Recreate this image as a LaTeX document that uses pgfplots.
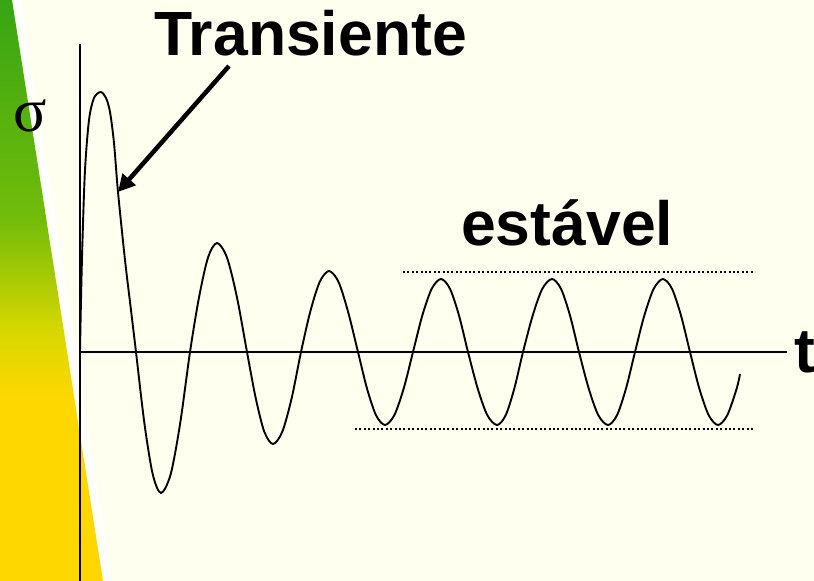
\documentclass[border=0pt]{standalone}
\usepackage{pgfplots}
\pgfplotsset{compat=1.18}
\usepackage{fontspec}
\setmainfont{Liberation Sans}
\newfontfamily\seriffont{Liberation Serif}
\usetikzlibrary{arrows.meta}
\definecolor{bgc}{RGB}{255,255,240}
\definecolor{g1}{RGB}{55,165,20}
\definecolor{g2}{RGB}{115,188,10}
\definecolor{g3}{RGB}{215,215,0}
\definecolor{g4}{RGB}{255,215,0}
\begin{document}
\begin{tikzpicture}
\begin{axis}[
  name=ax,
  width=814pt, height=581pt, scale only axis,
  xmin=0, xmax=814, ymin=0, ymax=581, y dir=reverse,
  hide axis, clip=false,
  axis background/.style={fill=bgc},
]
% left gradient band
\shade[top color=g1, bottom color=g2] (axis cs:0,0) -- (axis cs:12,0) -- (axis cs:46.5,220) -- (axis cs:0,220) -- cycle;
\shade[top color=g2, bottom color=g3] (axis cs:0,219.5) -- (axis cs:46.3,219.5) -- (axis cs:63.7,330) -- (axis cs:0,330) -- cycle;
\shade[top color=g3, bottom color=g4] (axis cs:0,329.5) -- (axis cs:63.6,329.5) -- (axis cs:74.6,400) -- (axis cs:0,400) -- cycle;
\fill[g4] (axis cs:0,399.5) -- (axis cs:74.5,399.5) -- (axis cs:103,581) -- (axis cs:0,581) -- cycle;
\draw[white, opacity=0.75, line width=8pt] (axis cs:17,0) -- (axis cs:108,581);
% axes
\draw[line width=1.3pt] (axis cs:80,44) -- (axis cs:80,581);
\draw[line width=1.3pt] (axis cs:80,352) -- (axis cs:787,352);
% dotted steady-state bounds
\draw[line width=2pt, dash pattern=on 2pt off 2.4pt] (axis cs:403,271.7) -- (axis cs:755,271.7);
\draw[line width=2pt, dash pattern=on 2pt off 2.4pt] (axis cs:355,429) -- (axis cs:755,429);
% signal
\addplot[smooth, line width=1.9pt, black] coordinates {
(80,352) (81,300) (82.5,240) (85,170) (89,120) (94,98) (100.7,92) (106,98) (110,112) (114,143) (118,192) (125,260) (130.5,306) (136,352)
(144.3,422.5) (152.7,474.1) (161,493) (170.7,474.1) (180.3,422.5) (190,352)
(199,297.5) (208,257.6) (217,243) (227,257.6) (237,297.5) (247,352)
(255.7,398) (264.3,431.7) (273,444) (282.3,431.7) (291.7,398) (301,352)
(310.3,311.5) (319.7,281.9) (329,271) (338.5,281.9) (348,311.5) (358,352)
(367,388.5) (376,415.2) (385,425) (394.3,415.2) (403.7,388.5) (413,352)
(422.3,315.5) (431.7,288.8) (441,279) (450,288.8) (459,315.5) (468,352)
(477.7,388.5) (487.3,415.2) (497,425) (505.7,415.2) (514.3,388.5) (523,352)
(532.7,315.5) (542.3,288.8) (552,279) (561,288.8) (570,315.5) (579,352)
(588.7,388.5) (598.3,415.2) (608,425) (617,415.2) (626,388.5) (635,352)
(644.3,315.5) (653.7,288.8) (663,279) (672,288.8) (681,315.5) (690,352)
(699.3,388.5) (708.7,415.2) (718,425) (727.3,415.2) (736.7,388.5) (740,374)
};
% arrow
\draw[line width=4.5pt, -{Triangle[length=17pt,width=17pt]}] (axis cs:229,66) -- (axis cs:118,192);
% texts
\node[anchor=base west, inner sep=0pt, font=\fontsize{62.5}{70}\selectfont\bfseries] at (axis cs:154,55) {Transiente};
\node[anchor=base west, inner sep=0pt, font=\fontsize{62.5}{70}\selectfont\bfseries] at (axis cs:461,245) {estável};
\node[anchor=base west, inner sep=0pt, font=\fontsize{62.5}{70}\selectfont\bfseries] at (axis cs:794,372) {t};
\node[anchor=base west, inner sep=0pt, font=\fontsize{62}{70}\selectfont\seriffont] at (axis cs:13,131) {σ};
\end{axis}
\pgfresetboundingbox
\path (ax.south west) rectangle (ax.north east);
\end{tikzpicture}
\end{document}
